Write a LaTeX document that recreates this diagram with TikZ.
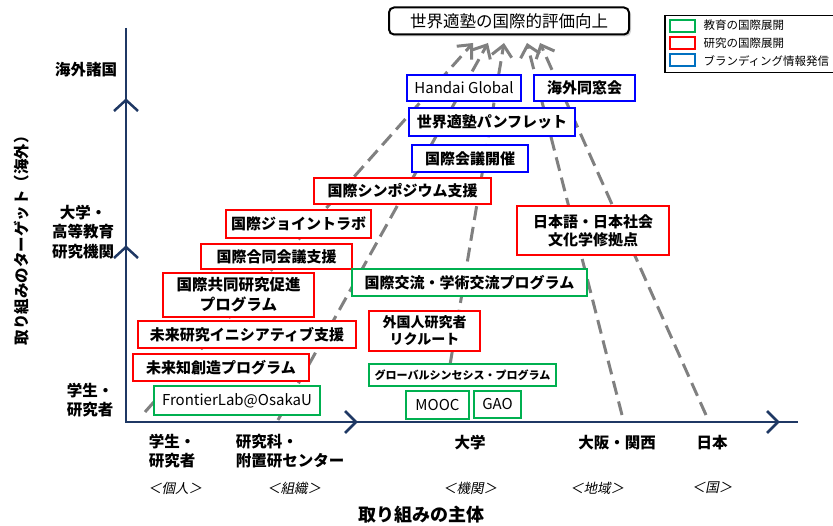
\documentclass[tikz,border=0pt]{standalone}
\usepackage{fontspec}
\setmainfont{Noto Sans CJK JP}
\newfontfamily\slantjp{Noto Sans CJK JP}[FakeSlant=0.2]
\usetikzlibrary{arrows.meta,shadows}
\definecolor{axisblue}{RGB}{31,56,100}
\definecolor{edugreen}{RGB}{0,176,80}
\definecolor{resred}{RGB}{255,0,0}
\definecolor{brandblue}{RGB}{0,0,255}
\definecolor{legblue}{RGB}{0,112,192}
\definecolor{flowgray}{RGB}{128,128,128}
\tikzset{
  box/.style={draw, fill=white, line width=2.8pt, inner sep=0pt, align=center,
    font=\bfseries\fontsize{15}{18}\selectfont},
  edubox/.style={box, draw=edugreen},
  resbox/.style={box, draw=resred},
  brandbox/.style={box, draw=brandblue},
  latin/.style={font=\fontsize{15}{18}\selectfont},
  wh/.style 2 args={minimum width=#1pt, minimum height=#2pt},
  flow/.style={draw=flowgray, line width=3pt, dash pattern=on 14pt off 7pt,
    -{Straight Barb[length=11pt,width=20pt]}},
  axis/.style={draw=axisblue, line width=2.5pt},
  tick/.style={font=\bfseries\fontsize{15.5}{19.5}\selectfont, align=center},
  cat/.style={font=\slantjp\fontsize{13.5}{16}\selectfont},
  legtext/.style={anchor=west, font=\fontsize{11.5}{14}\selectfont},
}
\begin{document}
\begin{tikzpicture}[x=1pt,y=-1pt]
    \useasboundingbox (0,0) rectangle (833,526);
    % axes
    \coordinate (O)    at (126,422);
    \coordinate (ytop) at (126,28);
    \coordinate (xend) at (798,422);
    \draw[axis] (ytop) -- (O) -- (xend);
    \draw[axis] (114,111) -- (126,100) -- (138,111);
    \draw[axis] (114,258) -- (126,247) -- (138,258);
    \draw[axis] (345,411) -- (356,422) -- (345,433);
    \draw[axis] (767,411) -- (778,422) -- (767,433);
    % dashed flows towards the goal
    \coordinate (f1s) at (145,412); \coordinate (f1e) at (473,43);
    \coordinate (f2s) at (278,420); \coordinate (f2e) at (488,43);
    \coordinate (f3s) at (450,365); \coordinate (f3e) at (504,43);
    \coordinate (f4s) at (622,415); \coordinate (f4e) at (527,43);
    \coordinate (f5s) at (706,415); \coordinate (f5e) at (540,43);
    \draw[flow] (f1s) -- (f1e);
    \draw[flow] (f2s) -- (f2e);
    \draw[flow] (f3s) -- (f3e);
    \draw[flow] (f4s) -- (f4e);
    \draw[flow] (f5s) -- (f5e);
    % goal
    \node[draw, rounded corners=5pt, line width=2pt, fill=white, wh={240}{27},
      drop shadow={shadow xshift=2pt, shadow yshift=-2pt, opacity=0.35},
      font=\fontsize{16.5}{20}\selectfont] (goal) at (509,21) {世界適塾の国際的評価向上};
    % branding
    \node[brandbox, latin, wh={114}{26}] (handai) at (464,88) {Handai Global};
    \node[brandbox, wh={101}{26}] (alumni) at (584.5,88) {海外同窓会};
    \node[brandbox, wh={166}{28}] (pamph) at (492,122) {世界適塾パンフレット};
    \node[brandbox, wh={116}{27}] (confhost) at (470,158.5) {国際会議開催};
    % research
    \node[resbox, wh={177}{26}] (sympo) at (402.5,191) {国際シンポジウム支援};
    \node[resbox, wh={145}{28}] (jointlab) at (298.5,224) {国際ジョイントラボ};
    \node[resbox, wh={151}{25}] (jointconf) at (276.5,256.5) {国際合同会議支援};
    \node[resbox, wh={151}{44}, font=\bfseries\fontsize{15.5}{20}\selectfont] (collab) at (238.5,295) {国際共同研究促進\\プログラム};
    \node[resbox, wh={218}{27}] (initiative) at (247,334.5) {未来研究イニシアティブ支援};
    \node[resbox, wh={176}{27}] (miraichi) at (221,367.5) {未来知創造プログラム};
    \node[resbox, wh={111}{40}, font=\bfseries\fontsize{14}{17}\selectfont] (recruit) at (424.5,331) {外国人研究者\\リクルート};
    \node[resbox, wh={152}{49}, font=\bfseries\fontsize{15}{18}\selectfont] (nihongo) at (593,230.5) {日本語・日本社会\\文化学修拠点};
    % education
    \node[edubox, latin, wh={166}{29}] (frontier) at (237,400.5) {FrontierLab@OsakaU};
    \node[edubox, wh={235}{27}] (exchange) at (469.5,282.5) {国際交流・学術交流プログラム};
    \node[edubox, wh={187}{22}, font=\bfseries\fontsize{11}{13}\selectfont] (synth) at (462.5,375) {グローバルシンセシス・プログラム};
    \node[edubox, latin, wh={63}{28}] (mooc) at (437.5,405) {MOOC};
    \node[edubox, latin, wh={47}{27}] (gao) at (497.5,404.5) {GAO};
    % legend
    \node[draw, line width=1.5pt, wh={172}{57}, anchor=north west] (legend) at (664,15) {};
    \node[draw=edugreen, line width=2pt, wh={25}{12}] (swedu) at (682.5,26.5) {};
    \node[draw=resred, line width=2pt, wh={25}{12}] (swres) at (682.5,43) {};
    \node[draw=legblue, line width=2pt, wh={25}{12}] (swbrand) at (682.5,60) {};
    \node[legtext] (lgedu) at (700,25) {教育の国際展開};
    \node[legtext] (lgres) at (700,43) {研究の国際展開};
    \node[legtext] (lgbrand) at (700,61) {ブランディング情報発信};
    % vertical axis labels
    \node[tick, rotate=90] (ytitle) at (22,237) {取り組みのターゲット（海外）};
    \node[tick] (overseas) at (86,70) {海外諸国};
    \node[tick] (inst) at (83,232) {大学・\\高等教育\\研究機関};
    \node[tick, align=left] (ystudent) at (90,400) {学生・\\研究者};
    % horizontal axis labels
    \node[tick, align=left] (xstudent) at (172,451) {学生・\\研究者};
    \node[tick, align=left] (xschool) at (290,451) {研究科・\\附置研センター};
    \node[tick] (xuniv) at (470,443) {大学};
    \node[tick] (xregion) at (617,443) {大阪・関西};
    \node[tick] (xnation) at (712,443) {日本};
    \node[cat] (cindiv) at (175,488) {＜個人＞};
    \node[cat] (corg) at (294,488) {＜組織＞};
    \node[cat] (cinst) at (470,488) {＜機関＞};
    \node[cat] (carea) at (597,488) {＜地域＞};
    \node[cat] (cnation) at (712,488) {＜国＞};
    \node[font=\bfseries\fontsize{18}{22}\selectfont] (xtitle) at (421,515) {取り組みの主体};
\end{tikzpicture}
\end{document}
